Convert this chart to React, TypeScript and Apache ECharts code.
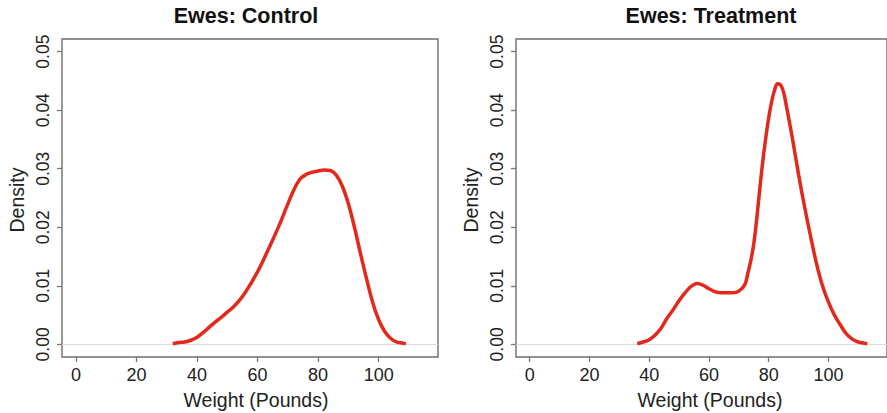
import React, { useEffect, useRef } from "react";
import * as echarts from "echarts";

// Control ewes density curve
const controlX = [32, 34, 36, 38, 40, 42, 44, 46, 48, 50, 52, 54, 56, 58, 60, 62, 64, 66, 68, 70, 72, 74, 76, 78, 80, 82, 84, 86, 88, 90, 92, 94, 96, 98, 100, 102, 104, 106, 108, 109];
const controlY = [0.0001, 0.0003, 0.0004, 0.0007, 0.0012, 0.002, 0.0029, 0.0038, 0.0046, 0.0055, 0.0064, 0.0075, 0.0089, 0.0106, 0.0124, 0.0145, 0.0167, 0.019, 0.0214, 0.024, 0.0264, 0.0282, 0.029, 0.0294, 0.0296, 0.0298, 0.0297, 0.0289, 0.027, 0.024, 0.02, 0.0155, 0.0112, 0.0072, 0.0042, 0.0022, 0.001, 0.0004, 0.0002, 0.0001];

// Treatment ewes density curve
const treatX = [36, 38, 40, 42, 44, 46, 48, 50, 52, 54, 56, 58, 60, 62, 64, 66, 68, 70, 72, 73, 74, 75, 76, 77, 78, 79, 80, 81, 82, 83, 84, 85, 86, 87, 88, 90, 92, 94, 96, 98, 100, 102, 104, 106, 108, 110, 112, 113];
const treatY = [0.0001, 0.0004, 0.0008, 0.0016, 0.0028, 0.0045, 0.0059, 0.0075, 0.0088, 0.0099, 0.0104, 0.0101, 0.0095, 0.009, 0.0088, 0.0088, 0.0088, 0.0091, 0.0102, 0.0121, 0.0143, 0.0172, 0.0215, 0.0265, 0.0312, 0.0352, 0.0387, 0.0415, 0.0435, 0.0445, 0.0443, 0.043, 0.0405, 0.0378, 0.035, 0.029, 0.0235, 0.0185, 0.0138, 0.01, 0.0072, 0.005, 0.0033, 0.0018, 0.0009, 0.0004, 0.0002, 0.0001];

const xTicks = [0, 20, 40, 60, 80, 100];
const yTicks = [0, 0.01, 0.02, 0.03, 0.04, 0.05];
const titles = ["Ewes: Control", "Ewes: Treatment"];
const xName = "Weight (Pounds)";
const yName = "Density";

const FONT = "'Liberation Sans', Arial, Helvetica, sans-serif";

export default function App() {
  const ref = useRef<HTMLDivElement>(null);
  useEffect(() => {
    document.body.style.margin = "0";
    if (!ref.current) return;
    const chart = echarts.init(ref.current, undefined, { renderer: "svg" });
    const grids = [
      { left: 62, top: 39, width: 376, height: 318 },
      { left: 516, top: 39, width: 375, height: 318 },
    ];
    const mkX = (i: number) => ({
      type: "value",
      gridIndex: i,
      min: -4.6,
      max: 119.6,
      splitLine: { show: false },
      axisLine: { show: false, onZero: false },
      axisTick: { show: true, customValues: xTicks, length: 5, lineStyle: { color: "#777", width: 1.3 } },
      axisLabel: {
        customValues: xTicks,
        margin: 9,
        fontSize: 18,
        color: "#222",
        fontFamily: FONT,
      },
    });
    const mkY = (i: number) => ({
      type: "value",
      gridIndex: i,
      min: -0.00216,
      max: 0.05216,
      splitLine: { show: false },
      axisLine: { show: false, onZero: false },
      axisTick: { show: true, customValues: yTicks, length: 5, lineStyle: { color: "#777", width: 1.3 } },
      axisLabel: {
        customValues: yTicks,
        rotate: 90,
        margin: 10,
        fontSize: 17.5,
        color: "#222",
        fontFamily: FONT,
        formatter: (v: number) => v.toFixed(2),
      },
    });
    const mkSeries = (i: number, xs: number[], ys: number[]) => ({
      type: "line",
      xAxisIndex: i,
      yAxisIndex: i,
      data: xs.map((x, k) => [x, ys[k]]),
      smooth: 0.4,
      showSymbol: false,
      symbol: "none",
      lineStyle: { color: "#e3291c", width: 3.5 },
      z: 3,
      markLine: {
        silent: true,
        symbol: "none",
        label: { show: false },
        lineStyle: { color: "#dcdcdc", width: 1.2, type: "solid" },
        data: [{ yAxis: 0 }],
        z: 1,
      },
    });
    const txt = (text: string, x: number, y: number, size: number, bold: boolean, rot = 0) => ({
      type: "text",
      x,
      y,
      rotation: rot,
      style: {
        text,
        fill: bold ? "#111" : "#222",
        font: `${bold ? "bold " : ""}${size}px ${FONT}`,
        textAlign: "center",
        textVerticalAlign: "middle",
      },
    });
    chart.setOption({
      animation: false,
      backgroundColor: "#fff",
      grid: grids.map((g) => ({ ...g, show: true, borderColor: "#6e6e6e", borderWidth: 1.4, containLabel: false })),
      xAxis: [mkX(0), mkX(1)],
      yAxis: [mkY(0), mkY(1)],
      series: [mkSeries(0, controlX, controlY), mkSeries(1, treatX, treatY)],
      graphic: [
        txt(titles[0], 246, 16, 21.5, true),
        txt(titles[1], 711, 16, 21.5, true),
        txt(xName, 256, 400, 19.5, false),
        txt(xName, 710, 400, 19.5, false),
        txt(yName, 17, 200, 19.5, false, Math.PI / 2),
        txt(yName, 471, 200, 19.5, false, Math.PI / 2),
      ],
    });
    return () => chart.dispose();
  }, []);
  return <div ref={ref} style={{ width: 887, height: 413 }} />;
}
